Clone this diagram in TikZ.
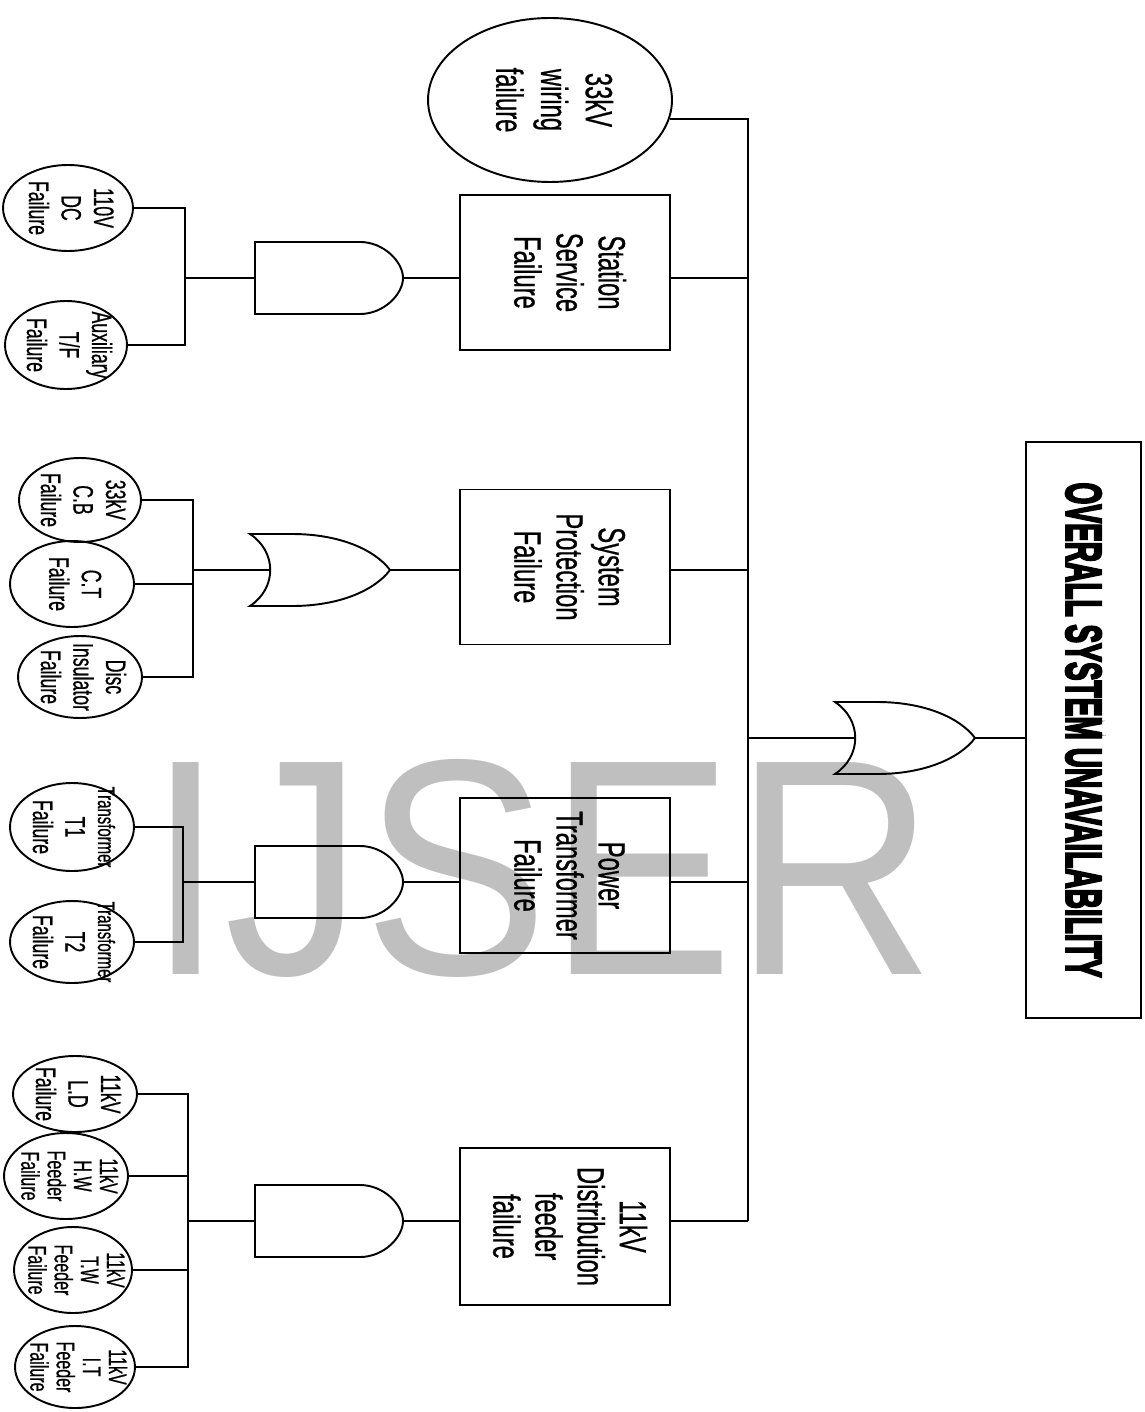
\documentclass[tikz,border=0pt]{standalone}
\usepackage{fontspec}
\setmainfont{Liberation Sans}
\newfontfamily\lblfont[FakeBold=0.8]{Liberation Sans}
\newfontfamily\titlefont[FakeBold=5]{Liberation Sans Bold}
\usetikzlibrary{shapes.geometric}

\newcommand{\vlab}[2]{\rotatebox{-90}{\scalebox{0.63}[1]{\lblfont#1\begin{tabular}{@{}c@{}}#2\end{tabular}}}}
\newcommand{\boxfont}{\fontsize{21.5}{24}\selectfont}
\newcommand{\evfont}{\fontsize{16}{18.5}\selectfont}
\newcommand{\evsmall}{\fontsize{14.5}{14.8}\selectfont}

\tikzset{
  box/.style={draw, rectangle, minimum width=4.2cm, minimum height=3.1cm, inner sep=0pt},
  evt/.style={draw, ellipse, minimum width=2.44cm, minimum height=1.72cm, inner sep=0pt},
  andg/.pic={
    \draw (0,-36) -- (105,-36) .. controls (129,-36) and (148,-16) .. (148,0)
      .. controls (148,16) and (129,36) .. (105,36) -- (0,36) -- cycle;
    \coordinate (-in) at (0,0);
    \coordinate (-out) at (148,0);
  },
  org/.pic={
    \draw (0,-36) -- (42,-36) .. controls (90,-36) and (125,-20) .. (140,0)
      .. controls (125,20) and (90,36) .. (42,36) -- (0,36)
      .. controls (27,18) and (27,-18) .. (0,-36) -- cycle;
    \coordinate (-in) at (20,0);
    \coordinate (-out) at (140,0);
  }
}

\begin{document}
\begin{tikzpicture}[x=0.02cm,y=-0.02cm,line width=1.1pt]
  \useasboundingbox (0,0) rectangle (1144,1412);
  \node[text=gray!50, inner sep=0pt] (wm) at (541,868) {\resizebox{15.74cm}{4.3cm}{IJSER}};

  % top event
  \node[draw, minimum width=2.3cm, minimum height=11.52cm, inner sep=0pt] (top) at (1083.5,730)
    {\rotatebox{-90}{\resizebox{9.9cm}{0.7cm}{\titlefont OVERALL SYSTEM UNAVAILABILITY}}};
  \pic (gt) at (835,738) {org};

  % intermediate events
  \node[draw, ellipse, minimum width=4.88cm, minimum height=3.28cm, inner sep=0pt] (wire) at (550,100)
    {\vlab{\fontsize{21.5}{25.5}\selectfont}{33kV\\wiring\\failure}};
  \node[box] (ss) at (565,272.5) {\vlab{\boxfont}{Station\\Service\\Failure}};
  \node[box] (sp) at (565,567) {\vlab{\boxfont}{System\\Protection\\Failure}};
  \node[box] (pt) at (565,875.5) {\vlab{\boxfont}{Power\\Transformer\\Failure}};
  \node[box, minimum height=3.14cm] (df) at (565,1226.5) {\vlab{\boxfont}{11kV\\Distribution\\feeder\\failure}};

  \pic (g1) at (255,278) {andg};
  \pic (g2) at (250,570) {org};
  \pic (g3) at (255,882) {andg};
  \pic (g4) at (255,1221) {andg};

  % basic events
  \node[evt, minimum width=2.6cm] (dc) at (68,208) {};
  \node at (dc.center) {\vlab{\evfont}{110V\\DC\\Failure}};
  \node[evt, minimum width=2.44cm, minimum height=1.76cm] (aux) at (66,345) {};
  \node at (aux.center) {\vlab{\evfont}{Auxiliary\\T/F\\Failure}};

  \node[evt, minimum height=1.68cm] (cb) at (80,500) {};
  \node at (cb.center) {\vlab{\evfont}{33kV\\C.B\\Failure}};
  \node[evt, minimum width=2.48cm] (ct) at (72,584) {};
  \node at (ct.center) {\vlab{\evfont}{C.T\\Failure}};
  \node[evt, minimum width=2.48cm, minimum height=1.64cm] (disc) at (80,677) {};
  \node at (disc.center) {\vlab{\evfont}{Disc\\Insulator\\Failure}};

  \node[evt, minimum width=2.48cm, minimum height=1.76cm] (t1) at (72,827) {};
  \node at (t1.center) {\vlab{\evfont}{{\fontsize{13.5}{12}\selectfont Transformer}\\T1\\Failure}};
  \node[evt, minimum width=2.48cm, minimum height=1.64cm] (t2) at (72,942) {};
  \node at (t2.center) {\vlab{\evfont}{{\fontsize{13.5}{12}\selectfont Transformer}\\T2\\Failure}};

  \node[evt, minimum width=2.48cm, minimum height=1.52cm] (ld) at (75,1094) {};
  \node at (ld.center) {\vlab{\evfont}{11kV\\L.D\\Failure}};
  \node[evt, minimum width=2.48cm] (hw) at (66,1176) {};
  \node at (hw.center) {\vlab{\evsmall}{11kV\\H.W\\Feeder\\Failure}};
  \node[evt, minimum width=2.36cm] (tw) at (73,1270) {};
  \node at (tw.center) {\vlab{\evsmall}{11kV\\T.W\\Feeder\\Failure}};
  \node[evt, minimum width=2.4cm, minimum height=1.64cm] (it) at (75,1367) {};
  \node at (it.center) {\vlab{\evsmall}{11kV\\I.T\\Feeder\\Failure}};

  % input buses
  \coordinate (b1) at (185,345);
  \coordinate (b2) at (193,677);
  \coordinate (b3) at (183,942);
  \coordinate (b4) at (188,1367);
  \draw (dc.east) -| (b1) -- (aux.east);
  \draw (b1 |- g1-in) -- (g1-in);
  \draw (cb.east) -| (b2) -- (disc.east);
  \draw (ct.east) -- (ct.east -| b2);
  \draw (b2 |- g2-in) -- (g2-in);
  \draw (t1.east) -| (b3) -- (t2.east);
  \draw (b3 |- g3-in) -- (g3-in);
  \draw (ld.east) -| (b4) -- (it.east);
  \foreach \e in {hw,tw} \draw (\e.east) -- (\e.east -| b4);
  \draw (b4 |- g4-in) -- (g4-in);

  % main bus
  \coordinate (mb) at (748,1221);
  \draw (wire.-9) -| (mb);
  \foreach \b/\g in {ss/g1,sp/g2,pt/g3,df/g4} {
    \draw (\g-out) -- (\b.west |- \g-out);
    \draw (\b.east |- \g-out) -- (mb |- \g-out);
  }
  \draw (mb |- gt-in) -- (gt-in);
  \draw (gt-out) -- (top.west |- gt-out);
\end{tikzpicture}
\end{document}
